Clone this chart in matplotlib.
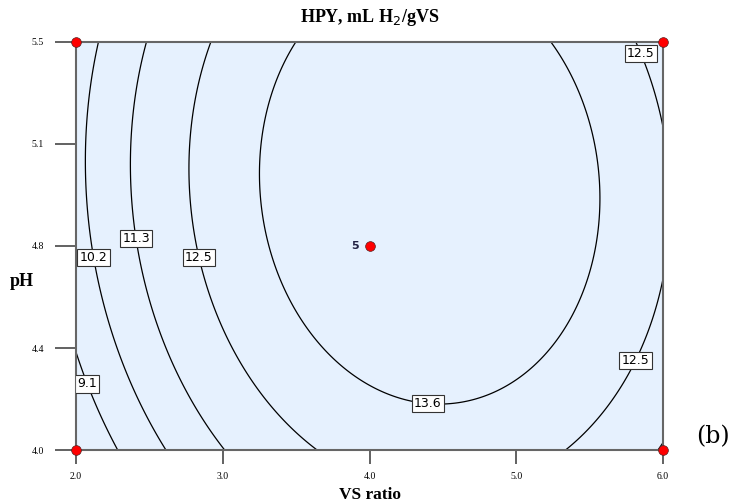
import numpy as np
import matplotlib
matplotlib.use("Agg")
import matplotlib.pyplot as plt

# fitted quadratic response surface for HPY
hpy_max = 14.7        # peak HPY
vs_center = 4.41      # VS ratio at the peak
ph_center = 4.97      # pH at the peak
coef_vs2 = 0.82       # curvature along VS ratio
coef_ph2 = 1.72       # curvature along pH
coef_int = 0.134      # VS x pH interaction

levels = [9.1, 10.2, 11.3, 12.5, 13.6]

# design points
design_vs = [2.0, 2.0, 6.0, 6.0, 4.0]
design_ph = [4.0, 5.5, 4.0, 5.5, 4.75]

# where the contour labels sit
label_pos = [(2.11, 4.25), (2.15, 4.71), (2.44, 4.78), (2.85, 4.71),
             (4.40, 4.19), (5.79, 4.335), (5.84, 5.456)]

xticks = [2.0, 3.0, 4.0, 5.0, 6.0]
yticks = [4.0, 4.375, 4.75, 5.125, 5.5]
yticklabels = ["4.0", "4.4", "4.8", "5.1", "5.5"]

vs = np.linspace(2.0, 6.0, 300)
ph = np.linspace(4.0, 5.5, 300)
VS, PH = np.meshgrid(vs, ph)
u = VS - vs_center
v = PH - ph_center
Z = hpy_max - coef_vs2 * u**2 - coef_ph2 * v**2 - coef_int * u * v

fig = plt.figure(figsize=(7.31, 5.04), dpi=100)
ax = fig.add_axes([0.104, 0.107, 0.803, 0.81])
ax.set_facecolor("#e6f1fe")

cs = ax.contour(VS, PH, Z, levels=levels, colors="black", linewidths=0.9)
labels = ax.clabel(cs, fmt="%.1f", manual=label_pos, inline=False, fontsize=9)
for t in labels:
    t.set_rotation(0)
    t.set_family("DejaVu Sans")
    t.set_zorder(6)
    t.set_bbox(dict(facecolor="white", edgecolor="#333333", linewidth=0.8, pad=1.6))

ax.plot(design_vs, design_ph, "o", color="red", markeredgecolor="#552222",
        markeredgewidth=0.5, markersize=7, clip_on=False, zorder=5)
ax.text(3.93, 4.75, "5", fontsize=8, fontweight="bold", ha="right", va="center",
        color="#222244", family="DejaVu Sans")

ax.set_xlim(2.0, 6.0)
ax.set_ylim(4.0, 5.5)
ax.set_xticks(xticks)
ax.set_xticklabels([f"{t:.1f}" for t in xticks])
ax.set_yticks(yticks)
ax.set_yticklabels(yticklabels)
ax.tick_params(axis="x", length=10, width=1.3, color="#555555", labelsize=7, pad=6)
ax.tick_params(axis="y", length=15, width=1.3, color="#555555", labelsize=7, pad=8)
for lab in ax.get_xticklabels() + ax.get_yticklabels():
    lab.set_family("Liberation Serif")
for s in ax.spines.values():
    s.set_color("#666666")
    s.set_linewidth(1.5)

ax.set_title("HPY, mL H$_2$/gVS", fontsize=13, fontweight="bold",
             family="Liberation Serif", pad=14)
ax.set_xlabel("VS ratio", fontsize=12.5, fontweight="bold", family="Liberation Serif",
              labelpad=4)
ax.set_ylabel("pH", fontsize=13, fontweight="bold", family="Liberation Serif",
              rotation=0, ha="center", va="center")
ax.yaxis.set_label_coords(-0.092, 0.412)

fig.text(0.975, 0.133, "(b)", fontsize=17, family="DejaVu Serif", ha="center", va="center")

fig.savefig("out.png", dpi=100)
